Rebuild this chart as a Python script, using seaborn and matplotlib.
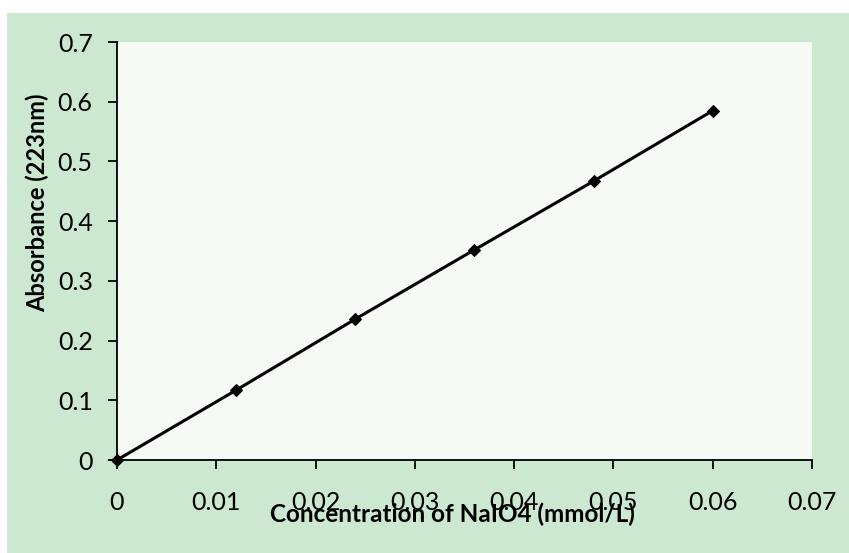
import matplotlib
matplotlib.use("Agg")
import matplotlib.pyplot as plt
import matplotlib.patches as patches
import seaborn as sns

# NaIO4 calibration data
concentration = [0, 0.012, 0.024, 0.036, 0.048, 0.060]
absorbance = [0, 0.117, 0.236, 0.352, 0.467, 0.585]

x_ticks = [0, 0.01, 0.02, 0.03, 0.04, 0.05, 0.06, 0.07]
x_labels = ["0", "0.01", "0.02", "0.03", "0.04", "0.05", "0.06", "0.07"]
y_ticks = [0, 0.1, 0.2, 0.3, 0.4, 0.5, 0.6, 0.7]
y_labels = ["0", "0.1", "0.2", "0.3", "0.4", "0.5", "0.6", "0.7"]

sns.set_theme(style="ticks")
plt.rcParams["font.family"] = ["Lato", "DejaVu Sans"]

outer_green = "#cce8d0"
plot_bg = "#f5faf4"

fig = plt.figure(figsize=(8.49, 5.53), dpi=100, facecolor="white")
# green chart area, leaving a thin white strip on the top and left
fig.patches.append(patches.Rectangle((7 / 849, 0), 1 - 7 / 849, 1 - 13 / 553,
                                     transform=fig.transFigure, facecolor=outer_green,
                                     edgecolor="none", zorder=-10))
ax = fig.add_axes([117 / 849, 93 / 553, 695 / 849, 418 / 553])
ax.set_facecolor(plot_bg)

sns.lineplot(x=concentration, y=absorbance, marker="D", markersize=6.5, color="black",
             linewidth=2.2, markeredgecolor="black", ax=ax, clip_on=False)

ax.set_xlim(0, 0.07)
ax.set_ylim(0, 0.7)
ax.set_xticks(x_ticks)
ax.set_xticklabels(x_labels)
ax.set_yticks(y_ticks)
ax.set_yticklabels(y_labels)
ax.tick_params(axis="both", direction="out", length=6.5, width=1.3, color="black",
               labelsize=18, labelcolor="black")
ax.tick_params(axis="y", pad=11)
ax.tick_params(axis="x", pad=16)

for side in ["top", "right"]:
    ax.spines[side].set_visible(False)
for side in ["left", "bottom"]:
    ax.spines[side].set_color("black")
    ax.spines[side].set_linewidth(1.3)

ax.set_xlabel("Concentration of NaIO4 (mmol/L)", fontsize=17.5, fontweight="bold", color="black")
ax.xaxis.label.set_va("center")
ax.xaxis.set_label_coords(0.482, -0.13)
ax.set_ylabel("Absorbance (223nm)", fontsize=17, fontweight="bold", color="black")
ax.yaxis.label.set_va("center")
ax.yaxis.set_label_coords(-0.114, 0.616)

plt.savefig("out.png", dpi=100, facecolor=fig.get_facecolor())
